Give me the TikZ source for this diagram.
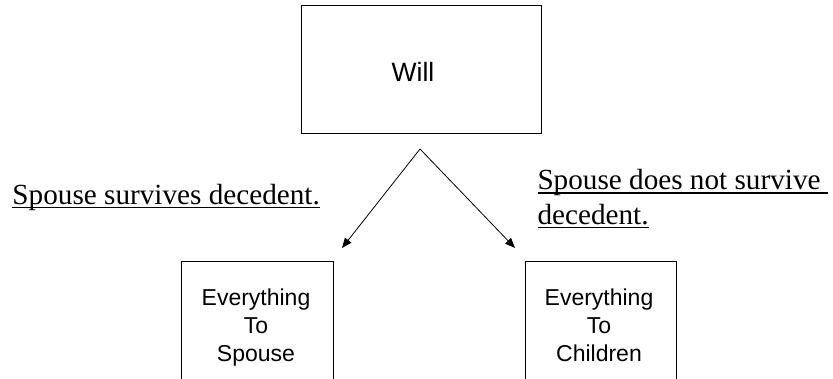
\documentclass[tikz,border=0pt]{standalone}
\usepackage{fontspec}
\setmainfont{Liberation Serif}
\newfontfamily\boxfont{Liberation Sans}
\usetikzlibrary{arrows.meta}
% text with a rule just below the baseline, as a word processor underlines
\newcommand\lineul[1]{\setbox0\hbox{#1}\rlap{\rule[-3.8pt]{\wd0}{1.5pt}}\box0}
\begin{document}
\begin{tikzpicture}[x=1pt,y=-1pt,
  box/.style={draw=black, line width=0.9pt, inner sep=0pt},
  titletext/.style={font=\boxfont\fontsize{26.5}{32}\selectfont, inner sep=0pt},
  boxtext/.style={font=\boxfont\fontsize{23}{28}\selectfont, align=center, inner sep=0pt},
  cond/.style={font=\fontsize{29.2}{34.5}\selectfont, align=left, inner sep=0pt},
  flow/.style={line width=0.8pt, -{Triangle[length=10pt,width=8pt]}}]
\useasboundingbox (0,0) rectangle (833,379);
\begin{scope}
\clip (0,0) rectangle (833,379);
% the will
\node[box, minimum width=240pt, minimum height=128pt] (will) at (421,69) {};
\node[titletext, anchor=base] (willtext) at (413,82) {Will};
% the two outcomes, running off the foot of the page
\node[box, minimum width=152pt, minimum height=160pt, anchor=north] (spbox) at (257,261) {};
\node[box, minimum width=151pt, minimum height=160pt, anchor=north] (chbox) at (600.5,261) {};
% base anchor of a multi-line node sits on its last line
\node[boxtext, anchor=base] (sptext) at (256,361.5) {Everything\\To\\Spouse};
\node[boxtext, anchor=base] (chtext) at (599,361.5) {Everything\\To\\Children};
\end{scope}
% the branching arrows
\coordinate (fork) at (420,149);
\coordinate (tipL) at (342,248);
\coordinate (tipR) at (515,248);
\draw[flow] (fork) -- (tipL);
\draw[flow] (fork) -- (tipR);
% conditions
\node[cond, anchor=base west] (yes) at (12.3,204.3) {\lineul{Spouse survives decedent.}};
\node[cond, anchor=base west] (no) at (537.3,224.5) {\lineul{Spouse does not survive\ }\\\lineul{decedent.}};
\end{tikzpicture}
\end{document}
